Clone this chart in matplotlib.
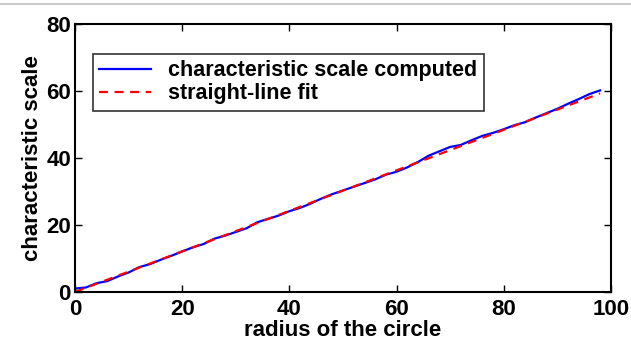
import matplotlib
matplotlib.use("Agg")
import matplotlib.pyplot as plt
from matplotlib.lines import Line2D

# radius of the circle vs. computed characteristic scale
radius = [0, 2, 4, 6, 8, 10, 12, 14, 16, 18, 20, 22, 24, 26, 28, 30, 32, 34, 36, 38,
          40, 42, 44, 46, 48, 50, 52, 54, 56, 58, 60, 62, 64, 66, 68, 70, 72, 74, 76, 78,
          80, 82, 84, 86, 88, 90, 92, 94, 96, 98]
scale_computed = [1.0, 1.3, 2.6, 3.2, 4.6, 5.8, 7.4, 8.3, 9.6, 10.8, 12.1, 13.3, 14.3, 15.9,
                  16.8, 17.9, 19.0, 20.8, 21.8, 22.8, 24.1, 25.1, 26.4, 27.9, 29.2, 30.3,
                  31.4, 32.5, 33.6, 35.0, 35.9, 37.2, 38.8, 40.7, 42.0, 43.3, 43.9, 45.3,
                  46.6, 47.5, 48.6, 49.8, 50.7, 52.1, 53.4, 54.7, 56.2, 57.6, 59.1, 60.2]
fit_x = [0, 98]
fit_y = [0, 59.3]

plt.rcParams['font.family'] = ['Liberation Sans', 'DejaVu Sans']
plt.rcParams['font.weight'] = 'bold'

fig = plt.figure(figsize=(6.31, 3.45), dpi=100)
ax = fig.add_axes([0.119, 0.154, 0.849, 0.776])

ax.plot(radius, scale_computed, color='#0000ff', lw=1.6, label='characteristic scale computed')
ax.plot(fit_x, fit_y, color='#ff0000', lw=1.6, ls=(0, (4, 3)), label='straight-line fit')

ax.set_xlim(0, 100)
ax.set_ylim(0, 80)
ax.set_xticks([0, 20, 40, 60, 80, 100])
ax.set_yticks([0, 20, 40, 60, 80])
ax.tick_params(direction='in', top=True, right=True, length=5, width=1,
               labelsize=16)
ax.tick_params(axis='x', pad=5)
ax.tick_params(axis='y', pad=3)
for s in ax.spines.values():
    s.set_linewidth(1.5)

ax.set_xlabel('radius of the circle', fontsize=16, fontweight='bold', labelpad=0)
ax.set_ylabel('characteristic scale', fontsize=16, fontweight='bold', labelpad=2)

leg = ax.legend(loc='upper left', bbox_to_anchor=(0.033, 0.89), fontsize=15.5,
                frameon=True, fancybox=False, edgecolor='black', borderpad=0.3,
                handlelength=2.4, labelspacing=0.1, borderaxespad=0)
leg.get_frame().set_linewidth(1.2)

# thin gray rule across the top of the image
fig.add_artist(Line2D([0, 1], [0.988, 0.988], transform=fig.transFigure,
                      color='#c0c0c0', lw=1.2))

fig.savefig('out.png', dpi=100)
